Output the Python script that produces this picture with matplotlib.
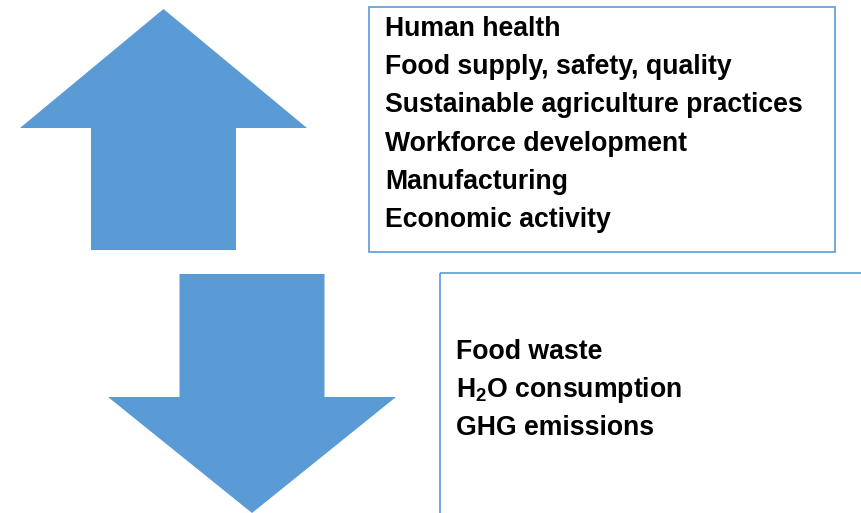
import matplotlib.pyplot as plt
from matplotlib.patches import Polygon, Rectangle

plt.rcParams['font.family'] = ['Liberation Sans', 'DejaVu Sans']
plt.rcParams['mathtext.fontset'] = 'custom'
plt.rcParams['mathtext.rm'] = 'Liberation Sans:bold'
plt.rcParams['mathtext.bf'] = 'Liberation Sans:bold'

# text in the two boxes
up_items = ["Human health", "Food supply, safety, quality",
            "Sustainable agriculture practices", "Workforce development",
            "Manufacturing", "Economic activity"]
down_items = ["Food waste", r"H$_\mathregular{2}$O consumption", "GHG emissions"]

blue = "#5B9BD5"


def arrow(cx, tip, head_base, end, head_half, shaft_half):
    # block arrow pointing from `end` to `tip` along y
    return [(cx, tip), (cx + head_half, head_base), (cx + shaft_half, head_base),
            (cx + shaft_half, end), (cx - shaft_half, end),
            (cx - shaft_half, head_base), (cx - head_half, head_base)]


fig = plt.figure(figsize=(8.61, 5.13), dpi=100)
ax = fig.add_axes([0, 0, 1, 1])
ax.set_xlim(0, 861)
ax.set_ylim(513, 0)
ax.axis("off")

ax.add_patch(Polygon(arrow(163.5, 9, 128, 250, 143.5, 72.5), closed=True, fc=blue, ec="none"))
ax.add_patch(Polygon(arrow(252, 513, 397, 274, 144, 72.5), closed=True, fc=blue, ec="none"))

ax.add_patch(Rectangle((369, 7), 466, 245, fill=False, ec=blue, lw=1.2))
ax.add_patch(Rectangle((440, 273), 440, 260, fill=False, ec=blue, lw=1.2, clip_on=True))

for i, t in enumerate(up_items):
    ax.text(385, 36 + 38.2 * i, t, fontsize=19.2, fontweight="bold", va="baseline", ha="left")
for i, t in enumerate(down_items):
    ax.text(456, 359 + 38 * i, t, fontsize=19.2, fontweight="bold", va="baseline", ha="left")

plt.savefig("out.png", dpi=100)
